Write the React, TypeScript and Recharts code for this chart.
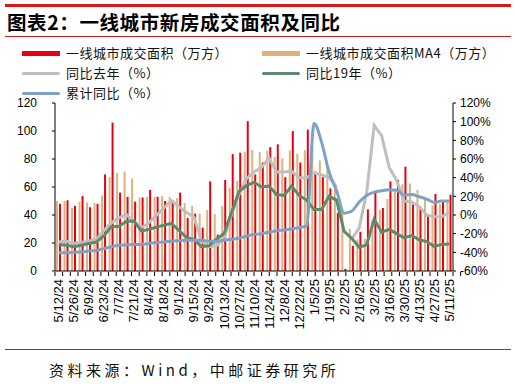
import React from 'react';
import { ComposedChart, Bar, Line, XAxis, YAxis } from 'recharts';

const weeks = [
  '5/12/24', '5/19/24', '5/26/24', '6/2/24', '6/9/24', '6/16/24', '6/23/24', '6/30/24',
  '7/7/24', '7/14/24', '7/21/24', '7/28/24', '8/4/24', '8/11/24', '8/18/24', '8/25/24',
  '9/1/24', '9/8/24', '9/15/24', '9/22/24', '9/29/24', '10/6/24', '10/13/24', '10/20/24',
  '10/27/24', '11/3/24', '11/10/24', '11/17/24', '11/24/24', '12/1/24', '12/8/24', '12/15/24',
  '12/22/24', '12/29/24', '1/5/25', '1/12/25', '1/19/25', '1/26/25', '2/2/25', '2/9/25',
  '2/16/25', '2/23/25', '3/2/25', '3/9/25', '3/16/25', '3/23/25', '3/30/25', '4/6/25',
  '4/13/25', '4/20/25', '4/27/25', '5/4/25', '5/11/25',
];

// 一线城市成交面积（万方）
const areaWeekly = [
  48, 50.5, 46.5, 53.5, 45.5, 48, 69, 106, 56, 53, 49.5, 52.5, 58, 53, 50, 50.5,
  56, 38, 41, 31, 64, 26, 65, 83.5, 84.5, 107, 69, 77.5, 88.5, 90.5, 67, 100,
  77.5, 101, 71, 67, 59, 41.5, 1.5, 18, 28, 44, 56, 45, 64, 65, 74.5, 47.5,
  45.5, 40, 55, 50, 54.5,
];

// 一线城市成交面积MA4（万方）
const areaMA4 = [
  50, 50, 45, 49.5, 49, 48.5, 54, 67, 70, 71, 66, 52.5, 53, 53, 53.5, 53,
  52, 48.5, 46.5, 41, 43.5, 40.5, 46.5, 59.5, 64.5, 85.3, 86.5, 85, 86, 81.5, 80.5, 86.3,
  83.7, 86.3, 87.3, 79, 74, 59.5, 42.5, 30, 22.5, 23, 36.5, 43.5, 51.5, 57, 62, 62.5,
  58, 52.5, 47, 48, 49.5,
];

// 同比去年（%）
const yoyLastYear: (number | null)[] = [
  -29, -28, -30.5, -29.5, -28, -26, -17, -8.5, -3, 0.5, -6.5, -13.5, -8.5, -0.5, 7.5, 15.5,
  9, 3, -2, -28, -34, -33, -25.5, 0, 22, 39, 46, 51, 61, 46, 46, 47,
  40, 40, 45, 43, 40, 30, null, -26, -14, 24, 96, 85, 51, 37, 15, 14,
  9, 0, -2, -2, 3,
];

// 同比19年（%）
const yoy2019 = [
  -31.5, -32.5, -34, -32.5, -30.5, -29, -22.5, -12.5, -12, -7, -6.5, -17, -15.5, -13, -11, -9,
  -16.5, -24, -26, -34, -33, -26, -20, 2.5, 25, 31.5, 35, 30, 31, 22, 21, 31,
  21, 16, 6, 6, 20, 16, -17.5, -25, -34.5, -32, -4.5, -18.5, -15.5, -20, -24.5, -22,
  -26.5, -28.5, -33.5, -31.5, -31,
];

// 累计同比（%）
const ytdYoy = [
  -40.5, -40.5, -40, -39.5, -38.5, -38, -36, -34, -32.5, -32, -31.5, -31.5, -30.5, -29.5, -29, -28,
  -27.5, -27, -27, -27, -28, -28, -27, -26, -25, -22.5, -21, -20, -18.5, -17, -16, -15,
  -13.5, -12, 98, 78, 46, 26, 2, 4, 14, 21, 24.5, 26, 27, 26.5, 21.5, 22,
  19.5, 17, 13.5, 15, 15,
];

const leftTicks = [0, 20, 40, 60, 80, 100, 120];
const rightTicks = [-60, -40, -20, 0, 20, 40, 60, 80, 100, 120];
const boundaryTicks = weeks.map((_, i) => i).concat([weeks.length]);

const data = weeks.map((w, i) => ({
  week: w,
  area: areaWeekly[i],
  ma4: areaMA4[i],
  yoy: yoyLastYear[i],
  yoy19: yoy2019[i],
  ytd: ytdYoy[i],
}));

const RED = '#E60012';
const TAN = '#DDB37C';
const GRAY = '#BFBFBF';
const GREEN = '#5B8A6C';
const BLUE = '#7CA3C6';
const LINE_RED = '#D7191C';
const NUM_FONT = '"Liberation Sans", Arial, sans-serif';
const CJK_FONT = '"Noto Sans CJK SC", "Noto Sans", sans-serif';

const XTick = (props: any) => {
  const { x, y, payload } = props;
  return (
    <text
      x={x}
      y={y}
      transform={`rotate(-90 ${x} ${y})`}
      textAnchor="end"
      dy="0.35em"
      fontSize={13}
      fontFamily={NUM_FONT}
      fill="#000"
    >
      {payload.value}
    </text>
  );
};

const EmptyTick = () => <g />;

const legendItems = [
  { label: '一线城市成交面积（万方）', color: RED, kind: 'bar', x: 22, y: 53 },
  { label: '一线城市成交面积MA4（万方）', color: TAN, kind: 'bar', x: 262, y: 53 },
  { label: '同比去年（%）', color: GRAY, kind: 'line', x: 22, y: 73 },
  { label: '同比19年（%）', color: GREEN, kind: 'line', x: 262, y: 73 },
  { label: '累计同比（%）', color: BLUE, kind: 'line', x: 22, y: 93 },
];

export default function App() {
  return (
    <div
      style={{
        position: 'absolute',
        left: 0,
        top: 0,
        width: 516,
        height: 385,
        background: '#fff',
        overflow: 'hidden',
      }}
    >
      <div style={{ position: 'absolute', left: 5, top: 4, width: 506, height: 2.5, background: LINE_RED }} />
      <div
        style={{
          position: 'absolute',
          left: 7,
          top: 9,
          fontFamily: CJK_FONT,
          fontWeight: 700,
          fontSize: 19.5,
          letterSpacing: 0.6,
          color: '#000',
          whiteSpace: 'nowrap',
          lineHeight: '26px',
        }}
      >
        图表2：一线城市新房成交面积及同比
      </div>
      <div style={{ position: 'absolute', left: 5, top: 36, width: 506, height: 1, background: LINE_RED }} />

      <div style={{ position: 'absolute', left: 0, top: 0 }}>
        <ComposedChart
          width={516}
          height={385}
          data={data}
          margin={{ top: 103, right: 0, bottom: 112, left: 0 }}
          barGap={1}
        >
          <XAxis
            xAxisId="tk"
            type="number"
            domain={[0, weeks.length]}
            ticks={boundaryTicks}
            interval={0}
            axisLine={false}
            tickLine={{ stroke: '#000', strokeWidth: 1 }}
            tickSize={4}
            tick={EmptyTick}
            height={1}
          />
          <XAxis
            xAxisId="cat"
            dataKey="week"
            interval={1}
            axisLine={{ stroke: '#000', strokeWidth: 1 }}
            tickLine={false}
            tickSize={0}
            tickMargin={8}
            tick={XTick}
            height={1}
          />
          <YAxis
            yAxisId="l"
            orientation="left"
            width={55}
            domain={[0, 120]}
            ticks={leftTicks}
            interval={0}
            axisLine={{ stroke: '#000', strokeWidth: 1 }}
            tickLine={{ stroke: '#000', strokeWidth: 1 }}
            tickSize={3}
            tickMargin={15}
            tick={{ fill: '#000', fontSize: 12, fontFamily: NUM_FONT }}
          />
          <YAxis
            yAxisId="r"
            orientation="right"
            width={63}
            domain={[-60, 120]}
            ticks={rightTicks}
            interval={0}
            tickFormatter={(v: number) => `${v}%`}
            axisLine={{ stroke: '#000', strokeWidth: 1 }}
            tickLine={{ stroke: '#000', strokeWidth: 1 }}
            tickSize={3}
            tickMargin={4}
            tick={{ fill: '#000', fontSize: 12, fontFamily: NUM_FONT }}
          />
          <Bar xAxisId="cat" yAxisId="l" dataKey="ma4" fill={TAN} barSize={2} isAnimationActive={false} />
          <Bar xAxisId="cat" yAxisId="l" dataKey="area" fill={RED} barSize={2} isAnimationActive={false} />
          <Line
            xAxisId="cat"
            yAxisId="r"
            dataKey="yoy"
            stroke={GRAY}
            strokeWidth={3}
            dot={false}
            type="linear"
            connectNulls={false}
            isAnimationActive={false}
          />
          <Line
            xAxisId="cat"
            yAxisId="r"
            dataKey="yoy19"
            stroke={GREEN}
            strokeWidth={3}
            dot={false}
            type="linear"
            isAnimationActive={false}
          />
          <Line
            xAxisId="cat"
            yAxisId="r"
            dataKey="ytd"
            stroke={BLUE}
            strokeWidth={3}
            dot={false}
            type="monotone"
            isAnimationActive={false}
          />
        </ComposedChart>
      </div>

      {legendItems.map((it) => (
        <div key={it.label}>
          <div
            style={{
              position: 'absolute',
              left: it.x,
              top: it.kind === 'bar' ? it.y - 2.5 : it.y - 1.5,
              width: 38,
              height: it.kind === 'bar' ? 5 : 3,
              borderRadius: it.kind === 'bar' ? 0 : 1.5,
              background: it.color,
            }}
          />
          <div
            style={{
              position: 'absolute',
              left: it.x + 44,
              top: it.y - 9,
              height: 18,
              lineHeight: '18px',
              fontFamily: CJK_FONT,
              fontSize: 13,
              letterSpacing: 0.5,
              color: '#111',
              whiteSpace: 'nowrap',
            }}
          >
            {it.label}
          </div>
        </div>
      ))}

      <div style={{ position: 'absolute', left: 5, top: 349, width: 506, height: 1, background: LINE_RED }} />
      <div
        style={{
          position: 'absolute',
          left: 49,
          top: 360,
          lineHeight: '20px',
          fontFamily: CJK_FONT,
          fontSize: 15,
          letterSpacing: 3.5,
          color: '#111',
          whiteSpace: 'nowrap',
        }}
      >
        资料来源：Wind，中邮证券研究所
      </div>
    </div>
  );
}
